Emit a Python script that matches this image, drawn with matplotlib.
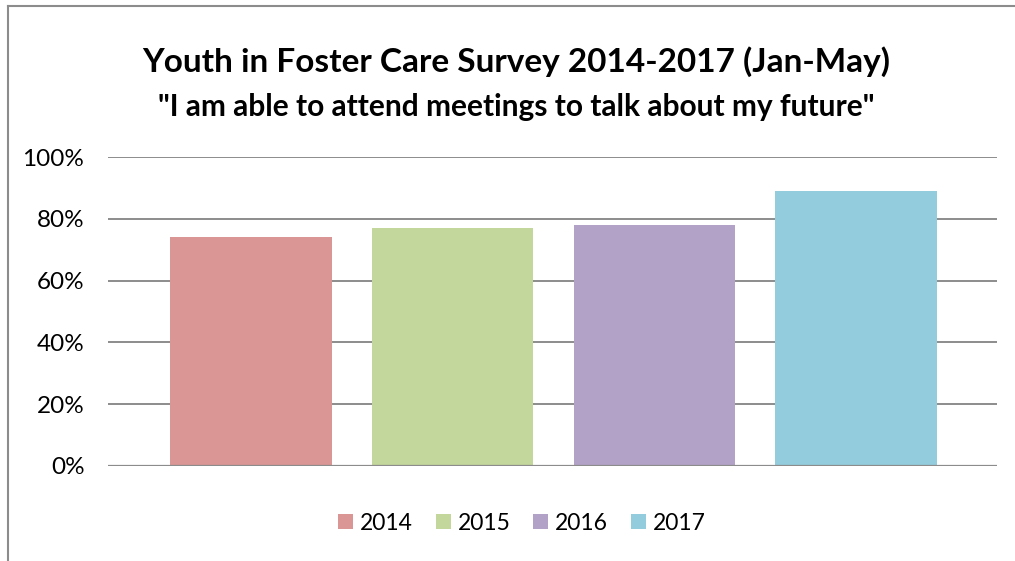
import matplotlib.pyplot as plt
from matplotlib.lines import Line2D
from matplotlib.ticker import PercentFormatter

years = ['2014', '2015', '2016', '2017']
shares = [0.74, 0.77, 0.78, 0.89]
colors = ['#D99694', '#C3D69B', '#B3A2C7', '#93CDDD']
yticks = [0, 0.2, 0.4, 0.6, 0.8, 1.0]

plt.rcParams['font.family'] = ['Lato', 'DejaVu Sans']

fig = plt.figure(figsize=(10.15, 5.61), dpi=100)
ax = fig.add_axes([108 / 1015, 1 - 466 / 561, 889 / 1015, 309 / 561])

bars = []
for i, (yr, v, c) in enumerate(zip(years, shares, colors)):
    bars.append(ax.bar(i, v, width=0.8, color=c, label=yr, zorder=2))

ax.set_xlim(-0.71, 3.70)
ax.set_ylim(0, 1)
ax.set_yticks(yticks)
ax.yaxis.set_major_formatter(PercentFormatter(1.0, decimals=0))
ax.set_xticks([])
ax.tick_params(axis='y', length=0, pad=17, labelsize=17.5)
for s in ax.spines.values():
    s.set_visible(False)
ax.grid(axis='y', color='#8c8c8c', linewidth=1.4, zorder=1)
ax.axhline(0, color='#8c8c8c', linewidth=1.6, zorder=3)

fig.text(516 / 1015, 1 - 62 / 561, 'Youth in Foster Care Survey 2014-2017 (Jan-May)',
         ha='center', va='center', fontsize=24, fontweight='bold')
fig.text(516 / 1015, 1 - 107 / 561, '"I am able to attend meetings to talk about my future"',
         ha='center', va='center', fontsize=21.5, fontweight='bold')

fig.legend(handles=bars, labels=years, loc='center', bbox_to_anchor=(522 / 1015, 1 - 523 / 561),
           ncol=4, frameon=False, fontsize=16.5, handlelength=0.65, handleheight=0.65,
           handletextpad=0.3, columnspacing=1.0)

# chart area border (left and top only visible)
fig.add_artist(Line2D([8 / 1015, 8 / 1015], [0, 1 - 6 / 561], color='#8c8c8c', linewidth=1.5))
fig.add_artist(Line2D([8 / 1015, 1], [1 - 6 / 561, 1 - 6 / 561], color='#8c8c8c', linewidth=1.5))

fig.savefig('out.png', dpi=100)
